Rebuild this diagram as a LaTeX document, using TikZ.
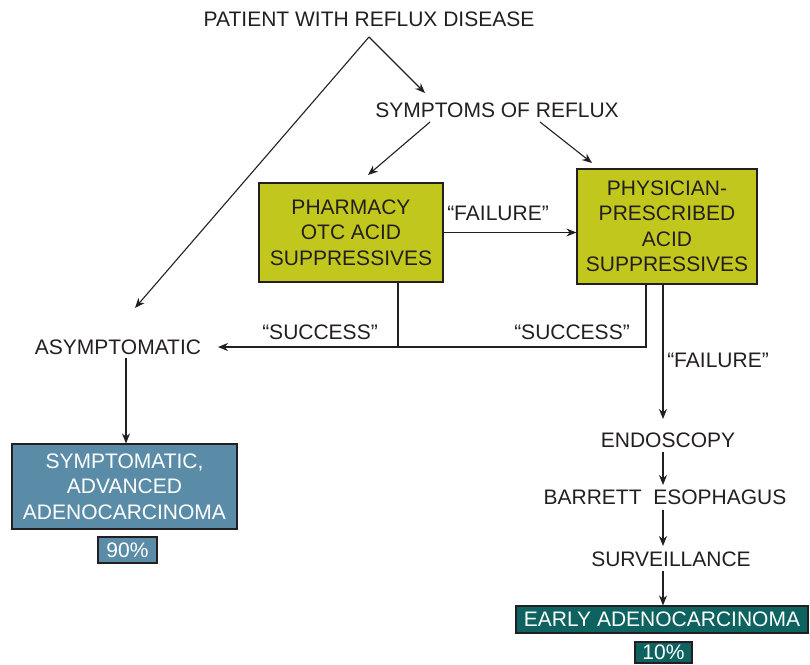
\documentclass[tikz,border=0pt]{standalone}
\usepackage{fontspec}
\setmainfont{Liberation Sans}
\usetikzlibrary{arrows.meta}
\definecolor{olivebox}{HTML}{C2C71E}
\definecolor{bluebox}{HTML}{5A8CA8}
\definecolor{tealbox}{HTML}{0E6361}
\definecolor{ink}{HTML}{231F20}
\begin{document}
\begin{tikzpicture}[x=1pt,y=-1pt,
  every node/.style={font=\fontsize{21}{25.5}\selectfont, text=ink, inner sep=0pt},
  lbl/.style={anchor=center},
  greenbox/.style={draw=ink, line width=1.2pt, fill=olivebox, align=center},
  bluebx/.style={draw=ink, line width=1.2pt, fill=bluebox, text=white, align=center},
  tealbx/.style={draw=ink, line width=1.2pt, fill=tealbox, text=white, align=center},
  conn/.style={draw=ink, line width=1.1pt},
  arr/.style={conn, -{Stealth[length=10pt,width=8pt]}}]
\useasboundingbox (0,0) rectangle (810,664);
% text nodes
\node[lbl] (patient) at (369,19) {PATIENT WITH REFLUX DISEASE};
\node[lbl] (symptoms) at (497,110) {SYMPTOMS OF REFLUX};
\node[lbl] (asym) at (118,347) {ASYMPTOMATIC};
\node[lbl] (endo) at (668,440) {ENDOSCOPY};
\node[lbl] (barrett) at (665,497) {BARRETT\ \ ESOPHAGUS};
\node[lbl] (surv) at (671,559) {SURVEILLANCE};
% boxes
\node[greenbox, minimum width=184pt, minimum height=99pt] (pharm) at (351,232.5) {PHARMACY\\OTC ACID\\SUPPRESSIVES};
\node[greenbox, minimum width=180pt, minimum height=115pt] (phys) at (667,226.5) {PHYSICIAN-\\PRESCRIBED\\ACID\\SUPPRESSIVES};
\node[bluebx, minimum width=225pt, minimum height=85pt] (sympt) at (124.5,486.5) {SYMPTOMATIC,\\ADVANCED\\ADENOCARCINOMA};
\node[bluebx, minimum width=59pt, minimum height=26pt] (ninety) at (127.5,550) {90\%};
\node[tealbx, minimum width=292pt, minimum height=27pt] (early) at (662,619.5) {EARLY ADENOCARCINOMA};
\node[tealbx, minimum width=57pt, minimum height=21pt] (ten) at (663.5,652.5) {10\%};
% coordinates
\coordinate (apex) at (369,37);
\coordinate (asytop) at (135,308);
\coordinate (symtip) at (425,93);
\coordinate (s1) at (430,122);
\coordinate (s1e) at (368,175);
\coordinate (s2) at (540,122);
\coordinate (s2e) at (592,163);
\coordinate (ph1) at (398,283);
\coordinate (ph2) at (646,285);
\coordinate (ph3) at (663,285);
\coordinate (succ) at (646,347);
\coordinate (asyright) at (218,347);
\coordinate (asybot) at (126,358);
\coordinate (endotop) at (663,419);
\coordinate (endobot) at (663,452);
\coordinate (bartop) at (663,485);
\coordinate (barbot) at (663,510);
\coordinate (survtop) at (663,546);
\coordinate (survbot) at (663,571);
% connectors
\draw[arr] (apex) -- (symtip);
\draw[arr] (apex) -- (asytop);
\draw[arr] (s1) -- (s1e);
\draw[arr] (s2) -- (s2e);
\draw[arr] (pharm.east) -- (phys.west |- pharm.east);
\draw[conn] (ph1) -- (ph1 |- succ);
\draw[arr] (ph2) -- (succ) -- (asyright);
\draw[arr] (ph3) -- (endotop);
\draw[arr] (asybot) -- (sympt.north -| asybot);
\draw[arr] (endobot) -- (bartop);
\draw[arr] (barbot) -- (survtop);
\draw[arr] (survbot) -- (early.north -| survbot);
% labels
\node[lbl] (fail1) at (498,213) {``FAILURE''};
\node[lbl] (succ1) at (320,332) {``SUCCESS''};
\node[lbl] (succ2) at (572,332) {``SUCCESS''};
\node[lbl] (fail2) at (718,360) {``FAILURE''};
\end{tikzpicture}
\end{document}
